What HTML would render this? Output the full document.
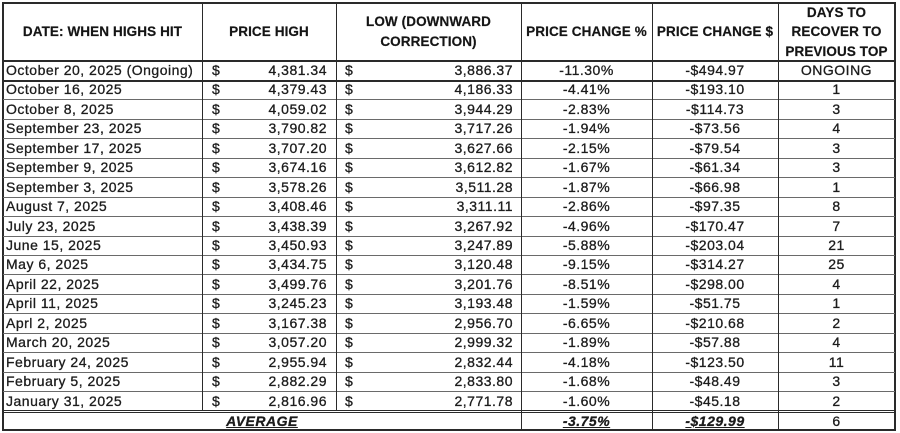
<!DOCTYPE html>
<html>
<head>
<meta charset="utf-8">
<style>
  html,body{margin:0;padding:0;background:#fff;}
  body{width:900px;height:433px;overflow:hidden;position:relative;
       font-family:"Liberation Sans",Arial,sans-serif;color:#1c1c1c;}
  .box{position:absolute;left:2px;top:2px;width:894px;height:429px;box-sizing:border-box;border:2px solid #2a2a2a;}
  .v{position:absolute;width:1px;background:#2a2a2a;top:3px;}
  .h{position:absolute;left:3px;width:892px;height:1px;background:#6a6a6a;}
  .hk{position:absolute;left:3px;width:892px;height:2px;background:#2a2a2a;}
  .hd{position:absolute;left:3px;width:892px;height:1px;box-sizing:content-box;border-top:1px solid #2a2a2a;border-bottom:1px solid #2a2a2a;}
  .hdr{position:absolute;top:3px;height:58px;display:flex;align-items:center;justify-content:center;text-align:center;
       font-weight:bold;font-size:13.5px;letter-spacing:0.1px;line-height:19.5px;white-space:nowrap;color:#151515;
       -webkit-text-stroke:0.2px #151515;}
  .r{position:absolute;left:0;width:900px;height:19.44px;line-height:19.44px;font-size:14px;letter-spacing:0.5px;white-space:nowrap;
     -webkit-text-stroke:0.3px #1c1c1c;}
  .r span{position:absolute;top:0;}
  .c1{left:6px;}
  .d2{left:212px;}
  .n2{right:573px;text-align:right;}
  .d3{left:345px;}
  .n3{right:387px;text-align:right;}
  .c4{left:521px;width:131px;text-align:center;}
  .c5{left:652px;width:126px;text-align:center;}
  .c6{left:778px;width:117px;text-align:center;}
  .avg{left:3px;width:518px;text-align:center;}
  .biu{font-weight:bold;font-style:italic;text-decoration:underline;}
</style>
</head>
<body>
<div class="box"></div>

<!-- header -->
<div class="hdr" style="left:3px;width:199px;">DATE: WHEN HIGHS HIT</div>
<div class="hdr" style="left:202px;width:134px;">PRICE HIGH</div>
<div class="hdr" style="left:336px;width:185px;line-height:20px;">LOW (DOWNWARD<br>CORRECTION)</div>
<div class="hdr" style="left:521px;width:131px;">PRICE CHANGE %</div>
<div class="hdr" style="left:652px;width:126px;">PRICE CHANGE $</div>
<div class="hdr" style="left:778px;width:117px;">DAYS TO<br>RECOVER TO<br>PREVIOUS TOP</div>

<!-- horizontal lines -->
<div class="hk" style="top:60px;"></div>
<div class="hk" style="top:79.5px;"></div>
<div class="h" style="top:99.4px;"></div>
<div class="h" style="top:118.8px;"></div>
<div class="h" style="top:138.3px;"></div>
<div class="h" style="top:157.7px;"></div>
<div class="h" style="top:177.2px;"></div>
<div class="h" style="top:196.6px;"></div>
<div class="h" style="top:216.1px;"></div>
<div class="h" style="top:235.5px;"></div>
<div class="h" style="top:254.9px;"></div>
<div class="h" style="top:274.4px;"></div>
<div class="h" style="top:293.8px;"></div>
<div class="h" style="top:313.3px;"></div>
<div class="h" style="top:332.7px;"></div>
<div class="h" style="top:352.2px;"></div>
<div class="h" style="top:371.6px;"></div>
<div class="h" style="top:391.1px;"></div>
<div class="hd" style="top:409.5px;"></div>

<!-- vertical lines -->
<div class="v" style="left:202px;height:408px;"></div>
<div class="v" style="left:336px;height:408px;"></div>
<div class="v" style="left:521px;height:427px;"></div>
<div class="v" style="left:652px;height:427px;"></div>
<div class="v" style="left:778px;height:427px;"></div>

<!-- rows -->
<div class="r" style="top:61px;"><span class="c1">October 20, 2025 (Ongoing)</span><span class="d2">$</span><span class="n2">4,381.34</span><span class="d3">$</span><span class="n3">3,886.37</span><span class="c4">-11.30%</span><span class="c5">-$494.97</span><span class="c6">ONGOING</span></div>
<div class="r" style="top:80.44px;"><span class="c1">October 16, 2025</span><span class="d2">$</span><span class="n2">4,379.43</span><span class="d3">$</span><span class="n3">4,186.33</span><span class="c4">-4.41%</span><span class="c5">-$193.10</span><span class="c6">1</span></div>
<div class="r" style="top:99.89px;"><span class="c1">October 8, 2025</span><span class="d2">$</span><span class="n2">4,059.02</span><span class="d3">$</span><span class="n3">3,944.29</span><span class="c4">-2.83%</span><span class="c5">-$114.73</span><span class="c6">3</span></div>
<div class="r" style="top:119.33px;"><span class="c1">September 23, 2025</span><span class="d2">$</span><span class="n2">3,790.82</span><span class="d3">$</span><span class="n3">3,717.26</span><span class="c4">-1.94%</span><span class="c5">-$73.56</span><span class="c6">4</span></div>
<div class="r" style="top:138.78px;"><span class="c1">September 17, 2025</span><span class="d2">$</span><span class="n2">3,707.20</span><span class="d3">$</span><span class="n3">3,627.66</span><span class="c4">-2.15%</span><span class="c5">-$79.54</span><span class="c6">3</span></div>
<div class="r" style="top:158.22px;"><span class="c1">September 9, 2025</span><span class="d2">$</span><span class="n2">3,674.16</span><span class="d3">$</span><span class="n3">3,612.82</span><span class="c4">-1.67%</span><span class="c5">-$61.34</span><span class="c6">3</span></div>
<div class="r" style="top:177.67px;"><span class="c1">September 3, 2025</span><span class="d2">$</span><span class="n2">3,578.26</span><span class="d3">$</span><span class="n3">3,511.28</span><span class="c4">-1.87%</span><span class="c5">-$66.98</span><span class="c6">1</span></div>
<div class="r" style="top:197.11px;"><span class="c1">August 7, 2025</span><span class="d2">$</span><span class="n2">3,408.46</span><span class="d3">$</span><span class="n3">3,311.11</span><span class="c4">-2.86%</span><span class="c5">-$97.35</span><span class="c6">8</span></div>
<div class="r" style="top:216.56px;"><span class="c1">July 23, 2025</span><span class="d2">$</span><span class="n2">3,438.39</span><span class="d3">$</span><span class="n3">3,267.92</span><span class="c4">-4.96%</span><span class="c5">-$170.47</span><span class="c6">7</span></div>
<div class="r" style="top:236px;"><span class="c1">June 15, 2025</span><span class="d2">$</span><span class="n2">3,450.93</span><span class="d3">$</span><span class="n3">3,247.89</span><span class="c4">-5.88%</span><span class="c5">-$203.04</span><span class="c6">21</span></div>
<div class="r" style="top:255.44px;"><span class="c1">May 6, 2025</span><span class="d2">$</span><span class="n2">3,434.75</span><span class="d3">$</span><span class="n3">3,120.48</span><span class="c4">-9.15%</span><span class="c5">-$314.27</span><span class="c6">25</span></div>
<div class="r" style="top:274.89px;"><span class="c1">April 22, 2025</span><span class="d2">$</span><span class="n2">3,499.76</span><span class="d3">$</span><span class="n3">3,201.76</span><span class="c4">-8.51%</span><span class="c5">-$298.00</span><span class="c6">4</span></div>
<div class="r" style="top:294.33px;"><span class="c1">April 11, 2025</span><span class="d2">$</span><span class="n2">3,245.23</span><span class="d3">$</span><span class="n3">3,193.48</span><span class="c4">-1.59%</span><span class="c5">-$51.75</span><span class="c6">1</span></div>
<div class="r" style="top:313.78px;"><span class="c1">Aprl 2, 2025</span><span class="d2">$</span><span class="n2">3,167.38</span><span class="d3">$</span><span class="n3">2,956.70</span><span class="c4">-6.65%</span><span class="c5">-$210.68</span><span class="c6">2</span></div>
<div class="r" style="top:333.22px;"><span class="c1">March 20, 2025</span><span class="d2">$</span><span class="n2">3,057.20</span><span class="d3">$</span><span class="n3">2,999.32</span><span class="c4">-1.89%</span><span class="c5">-$57.88</span><span class="c6">4</span></div>
<div class="r" style="top:352.67px;"><span class="c1">February 24, 2025</span><span class="d2">$</span><span class="n2">2,955.94</span><span class="d3">$</span><span class="n3">2,832.44</span><span class="c4">-4.18%</span><span class="c5">-$123.50</span><span class="c6">11</span></div>
<div class="r" style="top:372.11px;"><span class="c1">February 5, 2025</span><span class="d2">$</span><span class="n2">2,882.29</span><span class="d3">$</span><span class="n3">2,833.80</span><span class="c4">-1.68%</span><span class="c5">-$48.49</span><span class="c6">3</span></div>
<div class="r" style="top:391.56px;"><span class="c1">January 31, 2025</span><span class="d2">$</span><span class="n2">2,816.96</span><span class="d3">$</span><span class="n3">2,771.78</span><span class="c4">-1.60%</span><span class="c5">-$45.18</span><span class="c6">2</span></div>

<!-- average row -->
<div class="r" style="top:411.5px;height:19px;line-height:19px;"><span class="avg biu">AVERAGE</span><span class="c4 biu">-3.75%</span><span class="c5 biu">-$129.99</span><span class="c6">6</span></div>
</body>
</html>
